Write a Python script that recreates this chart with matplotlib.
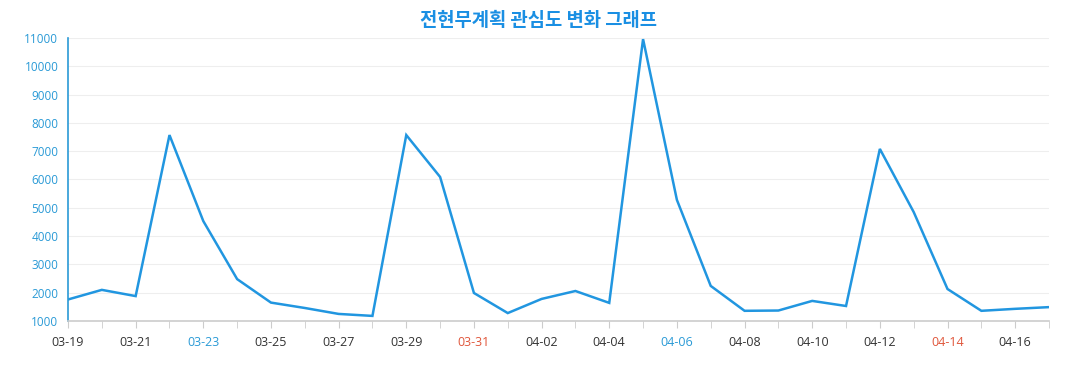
import matplotlib
matplotlib.use("Agg")
import matplotlib.pyplot as plt

plt.rcParams['font.family'] = ['Open Sans', 'Noto Sans CJK KR', 'DejaVu Sans']

dates = ["03-19", "03-20", "03-21", "03-22", "03-23", "03-24", "03-25", "03-26", "03-27", "03-28",
         "03-29", "03-30", "03-31", "04-01", "04-02", "04-03", "04-04", "04-05", "04-06", "04-07",
         "04-08", "04-09", "04-10", "04-11", "04-12", "04-13", "04-14", "04-15", "04-16", "04-17"]
values = [1760, 2100, 1880, 7570, 4530, 2480, 1650, 1460, 1250, 1180,
          7570, 6090, 1990, 1280, 1780, 2060, 1640, 10960, 5280, 2240,
          1360, 1370, 1710, 1530, 7080, 4850, 2130, 1360, 1430, 1490]
saturdays = ["03-23", "04-06"]
sundays = ["03-31", "04-14"]
title = "전현무계획 관심도 변화 그래프"
yticks = [1000, 2000, 3000, 4000, 5000, 6000, 7000, 8000, 9000, 10000, 11000]

W, H = 1077, 390
fig = plt.figure(figsize=(W / 100, H / 100), dpi=100)
ax = fig.add_axes([68 / W, 1 - 321 / H, (1049 - 68) / W, (321 - 38) / H])

x = list(range(len(dates)))
ax.plot(x, values, color="#2196e0", linewidth=1.8, solid_joinstyle="miter")
ax.set_xlim(0, len(dates) - 1)
ax.set_ylim(1000, 11000)

ax.set_yticks(yticks)
ax.set_yticklabels([str(v) for v in yticks], color="#2a9ad6", fontsize=8.5)
ax.yaxis.grid(True, color="#eeeeee", linewidth=0.8)
ax.set_axisbelow(True)
ax.tick_params(axis="y", length=0, pad=7)

ax.set_xticks(x, minor=True)
major = x[::2]
ax.set_xticks(major)
ax.set_xticklabels([dates[i] for i in major], fontsize=9, color="#333333")
for lab in ax.get_xticklabels():
    t = lab.get_text()
    if t in saturdays:
        lab.set_color("#2a9ad6")
    elif t in sundays:
        lab.set_color("#e0563b")
ax.tick_params(axis="x", which="both", length=5, color="#cccccc", pad=6)

for s in ["top", "right"]:
    ax.spines[s].set_visible(False)
ax.spines["left"].set_color("#2a9ad6")
ax.spines["left"].set_linewidth(1.2)
ax.spines["bottom"].set_color("#cccccc")
ax.spines["bottom"].set_linewidth(1.2)

fig.text(0.5, 1 - 20 / H, title, ha="center", va="center", fontsize=13.5, fontweight="bold",
         color="#1a8fe3", family=["Noto Sans CJK KR", "DejaVu Sans"])

fig.savefig("out.png", dpi=100)
